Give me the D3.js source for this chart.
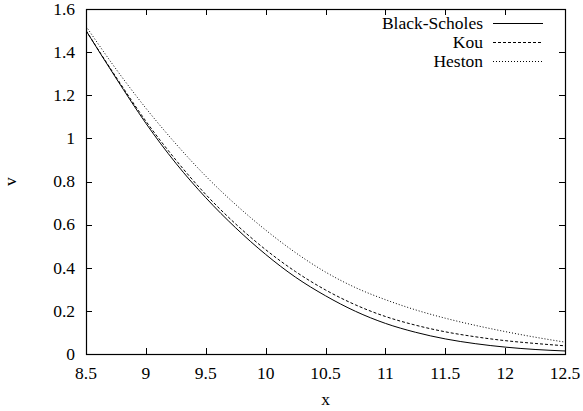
<!DOCTYPE html>
<html>
<head>
<meta charset="utf-8">
<script src="https://cdn.jsdelivr.net/npm/d3@7"></script>
<style>
  body { margin: 0; background: #fff; }
</style>
</head>
<body>
<svg id="chart" width="583" height="411"></svg>
<script>
// values
var xs = [8.5, 8.75, 9, 9.25, 9.5, 9.75, 10, 10.25, 10.5, 10.75, 11, 11.25, 11.5, 11.75, 12, 12.25, 12.5];
var blackScholes = [1.50, 1.28, 1.07, 0.885, 0.725, 0.585, 0.462, 0.356, 0.27, 0.198, 0.142, 0.101, 0.07, 0.048, 0.032, 0.021, 0.014];
var kou = [1.50, 1.285, 1.08, 0.9, 0.74, 0.603, 0.484, 0.382, 0.297, 0.228, 0.174, 0.134, 0.103, 0.08, 0.062, 0.049, 0.038];
var heston = [1.52, 1.322, 1.14, 0.975, 0.825, 0.693, 0.575, 0.47, 0.38, 0.308, 0.252, 0.205, 0.166, 0.133, 0.104, 0.078, 0.055];

var xTicks = [8.5, 9, 9.5, 10, 10.5, 11, 11.5, 12, 12.5];
var yTicks = [0, 0.2, 0.4, 0.6, 0.8, 1, 1.2, 1.4, 1.6];

var series = [
  { name: "Black-Scholes", values: blackScholes, dash: null },
  { name: "Kou", values: kou, dash: "3,2" },
  { name: "Heston", values: heston, dash: "1,2" }
];

var FONT = "'Liberation Serif', 'Times New Roman', Times, serif";

var Chart = {};

Chart.main = function() {
  var svg = d3.select('#chart')
    .attr('font-family', FONT)
    .attr('font-size', 17.5);
  var left = 86, right = 565, top = 9, bottom = 354;

  var x = d3.scaleLinear().domain([8.5, 12.5]).range([left, right]);
  var y = d3.scaleLinear().domain([0, 1.6]).range([bottom, top]);

  var g = svg.append('g');

  // ticks, mirrored on all four sides, pointing inward
  g.selectAll('.xt').data(xTicks).enter().append('path')
    .attr('d', function(d) {
      var px = Math.round(x(d)) + 0.5;
      return 'M' + px + ',' + bottom + 'v-6M' + px + ',' + top + 'v6';
    })
    .attr('stroke', '#000').attr('stroke-width', 1);

  g.selectAll('.yt').data(yTicks).enter().append('path')
    .attr('d', function(d) {
      var py = Math.round(y(d)) + 0.5;
      return 'M' + left + ',' + py + 'h6M' + right + ',' + py + 'h-6';
    })
    .attr('stroke', '#000').attr('stroke-width', 1);

  // tick labels
  g.selectAll('.xl').data(xTicks).enter().append('text')
    .attr('x', function(d) { return x(d); })
    .attr('y', 379)
    .attr('text-anchor', 'middle')
    .text(function(d) { return d; });

  g.selectAll('.yl').data(yTicks).enter().append('text')
    .attr('x', 75)
    .attr('y', function(d) { return y(d); })
    .attr('dy', '0.33em')
    .attr('text-anchor', 'end')
    .text(function(d) { return d; });

  // axis titles
  svg.append('text')
    .attr('x', (left + right) / 2).attr('y', 405)
    .attr('text-anchor', 'middle')
    .text('x');
  svg.append('text')
    .attr('transform', 'translate(16,' + ((top + bottom) / 2) + ') rotate(-90)')
    .attr('text-anchor', 'middle')
    .text('v');

  // curves
  var line = d3.line()
    .x(function(d, i) { return x(xs[i]); })
    .y(function(d) { return y(d); })
    .curve(d3.curveMonotoneX);

  svg.append('clipPath').attr('id', 'clip')
    .append('rect').attr('x', left).attr('y', top)
    .attr('width', right - left).attr('height', bottom - top);

  svg.append('g').attr('clip-path', 'url(#clip)')
    .selectAll('path').data(series).enter().append('path')
    .attr('d', function(d) { return line(d.values); })
    .attr('fill', 'none')
    .attr('stroke', '#000')
    .attr('stroke-width', 1)
    .attr('stroke-dasharray', function(d) { return d.dash; });

  // border
  svg.append('rect')
    .attr('x', left + 0.5).attr('y', top + 0.5)
    .attr('width', right - left).attr('height', bottom - top)
    .attr('fill', 'none').attr('stroke', '#000').attr('stroke-width', 1.2);

  // legend
  var leg = svg.append('g').selectAll('g').data(series).enter().append('g')
    .attr('transform', function(d, i) { return 'translate(0,' + (23 + i * 19) + ')'; });
  leg.append('text')
    .attr('x', 483).attr('dy', '0.33em')
    .attr('text-anchor', 'end')
    .text(function(d) { return d.name; });
  leg.append('line')
    .attr('x1', 493).attr('x2', 543).attr('y1', 0.5).attr('y2', 0.5)
    .attr('stroke', '#000').attr('stroke-width', 1)
    .attr('stroke-dasharray', function(d) { return d.dash; });
};

Chart.main();
</script>
</body>
</html>
